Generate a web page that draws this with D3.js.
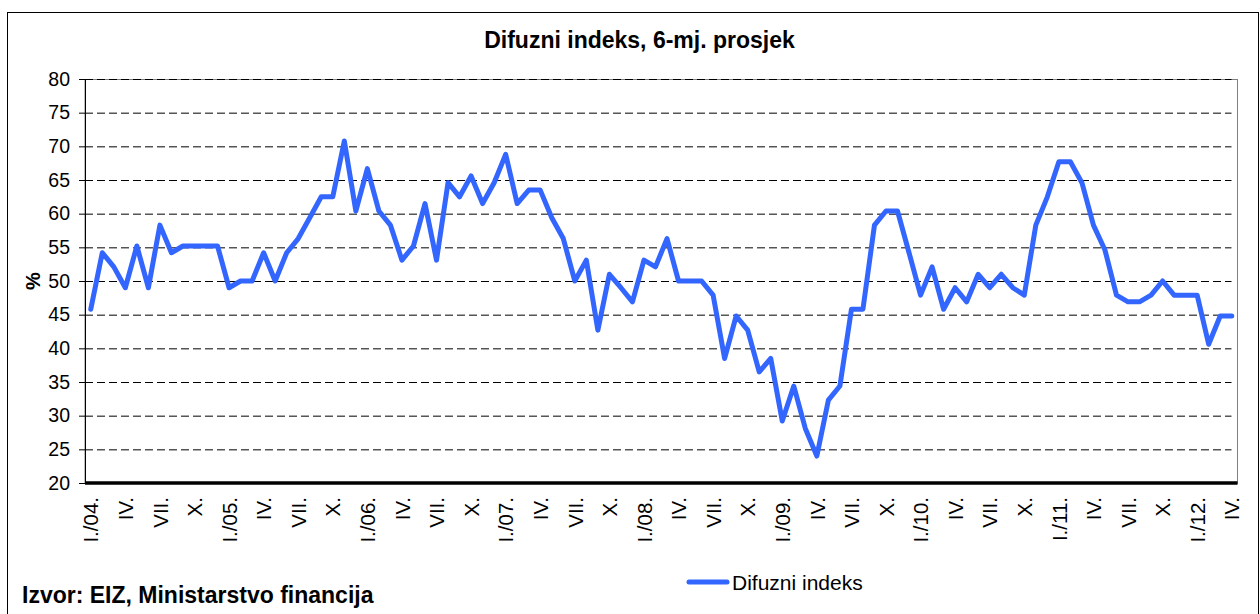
<!DOCTYPE html>
<html>
<head>
<meta charset="utf-8">
<script src="https://cdn.jsdelivr.net/npm/d3@7"></script>
<style>
    body { margin: 0; background: #fff; }
    svg { display: block; font-family: Arial, "Liberation Sans", sans-serif; }
</style>
</head>
<body>
<div class="chart"></div>
<script>
// months I./04. - IV./12.
var romanMonths = ['I.', 'II.', 'III.', 'IV.', 'V.', 'VI.', 'VII.', 'VIII.', 'IX.', 'X.', 'XI.', 'XII.'];
var years = ['04', '05', '06', '07', '08', '09', '10', '11', '12'];

var diffIndex = [
    45.8, 54.2, 52.1, 49.0, 55.2, 49.0, 58.3, 54.2, 55.2, 55.2, 55.2, 55.2,
    49.0, 50.0, 50.0, 54.2, 50.0, 54.2, 56.3, 59.4, 62.5, 62.5, 70.8, 60.4,
    66.7, 60.4, 58.3, 53.1, 55.2, 61.5, 53.1, 64.6, 62.5, 65.6, 61.5, 64.6,
    68.8, 61.5, 63.5, 63.5, 59.4, 56.3, 50.0, 53.1, 42.7, 51.0, 49.0, 46.9,
    53.1, 52.1, 56.3, 50.0, 50.0, 50.0, 47.9, 38.5, 44.8, 42.7, 36.5, 38.5,
    29.2, 34.4, 28.1, 24.0, 32.3, 34.4, 45.8, 45.8, 58.3, 60.4, 60.4, 54.2,
    47.9, 52.1, 45.8, 49.0, 46.9, 51.0, 49.0, 51.0, 49.0, 47.9, 58.3, 62.5,
    67.7, 67.7, 64.6, 58.3, 54.6, 47.9, 46.9, 46.9, 47.9, 50.0, 47.9, 47.9,
    47.9, 40.6, 44.8, 44.8
];

var yTicks = [20, 25, 30, 35, 40, 45, 50, 55, 60, 65, 70, 75, 80];

var labels = diffIndex.map(function (d, i) {
    var m = i % 12;
    var y = Math.floor(i / 12);
    return m === 0 ? 'I./' + years[y] + '.' : romanMonths[m];
});

var fullWidth = 1260;
var fullHeight = 614;
var margin = { top: 79, left: 85, right: 1260 - 1237.5, bottom: 614 - 483 };
var width = fullWidth - margin.left - margin.right;
var height = fullHeight - margin.top - margin.bottom;

var svg = d3.select('.chart')
            .append('svg')
            .attr('width', fullWidth)
            .attr('height', fullHeight);

// outer frame
svg.append('rect')
   .attr('x', 7.5)
   .attr('y', 12.5)
   .attr('width', 1251)
   .attr('height', 640)
   .attr('fill', 'none')
   .attr('stroke', '#000')
   .attr('stroke-width', 1);

svg.append('text')
   .attr('x', 639.5)
   .attr('y', 48)
   .attr('text-anchor', 'middle')
   .style('font-size', '23px')
   .style('font-weight', 'bold')
   .text('Difuzni indeks, 6-mj. prosjek');

var g = svg.append('g')
           .attr('transform', 'translate(' + margin.left + ',' + margin.top + ')');

var xScale = d3.scalePoint()
               .domain(d3.range(diffIndex.length))
               .range([0, width])
               .padding(0.5);

var yScale = d3.scaleLinear()
               .domain([20, 80])
               .range([height, 0]);

// plot area border
g.append('rect')
 .attr('x', 0)
 .attr('y', 0.5)
 .attr('width', width)
 .attr('height', height)
 .attr('fill', 'none')
 .attr('stroke', '#808080');

// dashed gridlines
g.append('g')
 .attr('class', 'grid')
 .call(d3.axisLeft(yScale).tickValues(yTicks.slice(1)).tickSize(-(width - 6)).tickFormat(''))
 .call(function (s) {
     s.select('.domain').remove();
     s.selectAll('line')
      .attr('stroke', '#000')
      .attr('stroke-dasharray', '8,4');
 });

// y axis
g.append('g')
 .call(d3.axisLeft(yScale).tickValues(yTicks).tickSize(6).tickPadding(9))
 .call(function (s) {
     s.select('.domain').attr('d', 'M0.5,0V' + height).attr('stroke', '#000');
     s.selectAll('text')
      .style('font-size', '19.5px')
      .attr('fill', '#000')
      .attr('font-family', 'Arial, "Liberation Sans", sans-serif');
 });

svg.append('text')
   .attr('transform', 'translate(40,281) rotate(-90)')
   .attr('text-anchor', 'middle')
   .style('font-size', '20px')
   .style('font-weight', 'bold')
   .text('%');

// x axis, labels every third month
g.append('g')
 .attr('transform', 'translate(0,' + height + ')')
 .call(d3.axisBottom(xScale)
         .tickValues(xScale.domain().filter(function (i) { return i % 3 === 0; }))
         .tickFormat(function (i) { return labels[i]; })
         .tickSize(0))
 .call(function (s) {
     s.select('.domain').remove();
     s.selectAll('text')
      .attr('transform', 'rotate(-90)')
      .attr('text-anchor', 'end')
      .attr('x', -14)
      .attr('y', 0)
      .attr('dy', '0.35em')
      .attr('fill', '#000')
      .attr('font-family', 'Arial, "Liberation Sans", sans-serif')
      .style('font-size', '20.5px');
 });

g.append('line')
 .attr('x1', 0)
 .attr('x2', width)
 .attr('y1', height)
 .attr('y2', height)
 .attr('stroke', '#000')
 .attr('stroke-width', 3.5);

var line = d3.line()
             .x(function (d, i) { return xScale(i); })
             .y(function (d) { return yScale(d); });

g.append('path')
 .datum(diffIndex)
 .attr('d', line)
 .attr('fill', 'none')
 .attr('stroke', '#3366ff')
 .attr('stroke-width', 5)
 .attr('stroke-linejoin', 'round')
 .attr('stroke-linecap', 'round');

// legend
svg.append('line')
   .attr('x1', 689)
   .attr('x2', 727)
   .attr('y1', 582)
   .attr('y2', 582)
   .attr('stroke', '#3366ff')
   .attr('stroke-width', 5)
   .attr('stroke-linecap', 'round');

svg.append('text')
   .attr('x', 732)
   .attr('y', 590)
   .style('font-size', '21px')
   .text('Difuzni indeks');

svg.append('text')
   .attr('x', 22)
   .attr('y', 603)
   .style('font-size', '23px')
   .style('font-weight', 'bold')
   .text('Izvor: EIZ, Ministarstvo financija');
</script>
</body>
</html>
